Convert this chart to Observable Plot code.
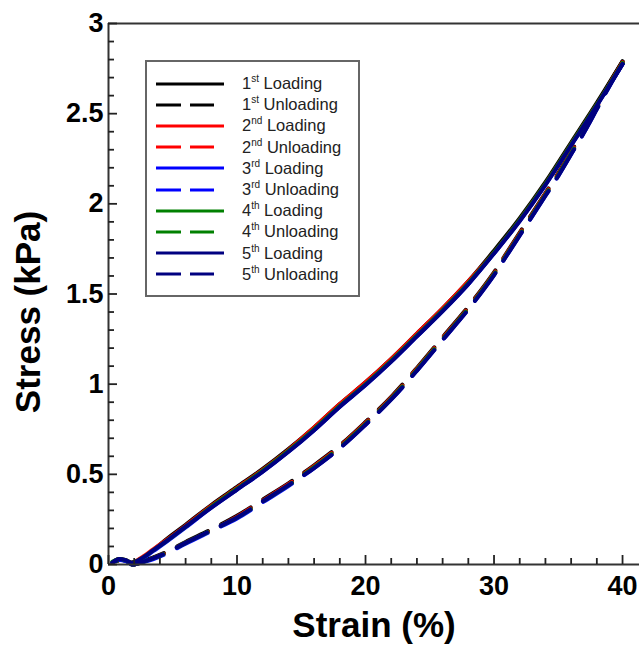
<!DOCTYPE html>
<html><head><meta charset="utf-8">
<script src="https://cdn.jsdelivr.net/npm/d3@7"></script>
<script src="https://cdn.jsdelivr.net/npm/@observablehq/plot@0.6"></script>
<style>
html,body{margin:0;padding:0;background:#fff;}
#wrap{position:relative;width:639px;height:646px;overflow:hidden;}
#chart svg{display:block;}
#legend{position:absolute;left:145px;top:60px;width:211px;height:222px;border:2px solid #666;background:#fff;
  font-family:"Liberation Sans",Arial,sans-serif;font-size:16.5px;color:#222;padding-top:11px;box-sizing:content-box;}
.row{height:21.2px;display:flex;align-items:center;}
.row svg{margin-left:9px;flex:none;}
.row span{margin-left:16px;white-space:nowrap;}
.row sup{font-size:10px;vertical-align:7px;line-height:0;}
</style></head>
<body><div id="wrap"><div id="chart"></div><div id="legend"></div></div>
<script>
// ---- data ----
const cycleNums = ["1","2","3","4","5"];
const cycleSuffix = ["st","nd","rd","th","th"];
const cycleColors = ["#000000","#ff0000","#0000ff","#008000","#000080"];

const loadStrain = [0.3,0.8,1.3,1.8,2.5,3.5,4.5,6,8,10,12,14,16,18,20,22,24,26,28,30,32,34,36,38,40];
const load1 = [0.01,0.03,0.02,0.01,0.03,0.08,0.14,0.22,0.33,0.43,0.53,0.64,0.76,0.89,1.01,1.14,1.28,1.42,1.57,1.74,1.92,2.12,2.34,2.56,2.79];
const load2 = [0.01,0.03,0.025,0.01,0.035,0.085,0.135,0.215,0.325,0.425,0.525,0.635,0.76,0.89,1.01,1.14,1.28,1.42,1.57,1.73,1.91,2.11,2.33,2.55,2.78];
const load3 = [0.01,0.025,0.02,0.005,0.025,0.075,0.125,0.205,0.315,0.415,0.515,0.625,0.745,0.875,0.995,1.125,1.265,1.405,1.555,1.725,1.905,2.105,2.325,2.545,2.775];
const load4 = [0.015,0.03,0.025,0.01,0.03,0.08,0.13,0.21,0.32,0.42,0.52,0.63,0.75,0.88,1.00,1.13,1.27,1.41,1.56,1.73,1.91,2.11,2.33,2.55,2.78];
const load5 = [0.01,0.03,0.025,0.01,0.03,0.08,0.13,0.21,0.315,0.415,0.515,0.625,0.745,0.875,0.995,1.125,1.265,1.405,1.555,1.725,1.905,2.105,2.325,2.545,2.775];

const unloadStrain = [40,39,38,37,36,35,34,33,32,31,30,28,26,24,22,20,18,16,14,12,10,8,6,4.5,3.5,2.5,2,1.5,1,0.5];
const unload1 = [2.79,2.67,2.54,2.41,2.29,2.17,2.06,1.95,1.84,1.73,1.62,1.43,1.26,1.09,0.93,0.79,0.66,0.55,0.45,0.36,0.27,0.195,0.125,0.07,0.04,0.015,0.0,0.005,0.02,0.02];
const unload2 = [2.785,2.665,2.535,2.405,2.285,2.165,2.055,1.945,1.835,1.725,1.615,1.425,1.255,1.085,0.925,0.785,0.655,0.545,0.445,0.355,0.265,0.19,0.12,0.065,0.035,0.01,0.0,0.005,0.02,0.02];
const unload3 = [2.775,2.655,2.525,2.395,2.275,2.155,2.045,1.935,1.825,1.715,1.605,1.415,1.245,1.075,0.915,0.775,0.645,0.535,0.435,0.345,0.255,0.185,0.115,0.06,0.03,0.01,0.0,0.005,0.02,0.02];
const unload4 = [2.78,2.66,2.53,2.40,2.28,2.16,2.05,1.94,1.83,1.72,1.61,1.42,1.25,1.08,0.92,0.78,0.65,0.54,0.44,0.35,0.26,0.19,0.12,0.065,0.035,0.01,0.0,0.005,0.02,0.02];
const unload5 = [2.775,2.655,2.525,2.395,2.275,2.155,2.045,1.935,1.825,1.715,1.605,1.415,1.245,1.075,0.915,0.775,0.645,0.535,0.44,0.35,0.26,0.19,0.12,0.065,0.035,0.01,0.0,0.005,0.02,0.02];

const xMajor = [0,10,20,30,40];
const xMinor = [2,4,6,8,12,14,16,18,22,24,26,28,32,34,36,38];
const yMajor = [0,0.5,1,1.5,2,2.5,3];
const yMinor = [0.1,0.2,0.3,0.4,0.6,0.7,0.8,0.9,1.1,1.2,1.3,1.4,1.6,1.7,1.8,1.9,2.1,2.2,2.3,2.4,2.6,2.7,2.8,2.9];
const xTitle = "Strain (%)";
const yTitle = "Stress (kPa)";

// ---- build series ----
const loads = [load1,load2,load3,load4,load5];
const unloads = [unload1,unload2,unload3,unload4,unload5];
const seriesMarks = [];
loads.forEach((arr, c) => {
  const L = loadStrain.map((s,i) => ({strain:s, stress:arr[i]}));
  const U = unloadStrain.map((s,i) => ({strain:s, stress:unloads[c][i]}));
  seriesMarks.push(Plot.line(L, {x:"strain", y:"stress", stroke:cycleColors[c], strokeWidth:4, strokeLinecap:"round", strokeLinejoin:"round", curve:"catmull-rom"}));
  seriesMarks.push(Plot.line(U, {x:"strain", y:"stress", stroke:cycleColors[c], strokeWidth:4, strokeLinecap:"round", strokeLinejoin:"round", strokeDasharray:"34,15", curve:"catmull-rom"}));
});

// frame geometry
const chartW = 639, chartH = 646, mL = 108, mR = 0, mT = 23, mB = 82;
const frameW = chartW - mL - mR, frameH = chartH - mT - mB;
const xDomain = [0, 41.32], yDomain = [0, 3];
// tick lengths, converted from pixels into scale units
const pxPerX = frameW / (xDomain[1] - xDomain[0]);
const pxPerY = frameH / (yDomain[1] - yDomain[0]);
const minorLen = 6, majorLen = 9;

const font = "'Liberation Sans', Arial, sans-serif";
const tickStroke = "#222";
const chart = Plot.plot({
  width: chartW, height: chartH,
  marginLeft: mL, marginRight: mR, marginTop: mT, marginBottom: mB,
  x: {domain: xDomain, label: null},
  y: {domain: yDomain, label: null},
  style: {fontFamily: font, background: "white", color: "#111"},
  marks: [
    Plot.axisX({ticks: xMajor, tickSize: 0, tickPadding: 11, fontSize: 27, fontWeight: "bold", label: null, fill: "#000"}),
    Plot.axisY({ticks: yMajor, tickSize: 0, tickPadding: 5, fontSize: 27, fontWeight: "bold", label: null, fill: "#000", tickFormat: d => String(d)}),
    ...seriesMarks,
    Plot.ruleX([0], {stroke: "#333", strokeWidth: 2}),
    Plot.ruleY([0, 3], {stroke: "#333", strokeWidth: 2}),
    // inward ticks
    Plot.ruleX(xMinor, {x: d => d, y1: yDomain[0], y2: yDomain[0] + minorLen / pxPerY, stroke: tickStroke, strokeWidth: 1.8}),
    Plot.ruleX(xMajor, {x: d => d, y1: yDomain[0], y2: yDomain[0] + majorLen / pxPerY, stroke: tickStroke, strokeWidth: 1.8}),
    Plot.ruleY(yMinor, {y: d => d, x1: xDomain[0], x2: xDomain[0] + minorLen / pxPerX, stroke: tickStroke, strokeWidth: 1.8}),
    Plot.ruleY(yMajor, {y: d => d, x1: xDomain[0], x2: xDomain[0] + majorLen / pxPerX, stroke: tickStroke, strokeWidth: 1.8}),
    Plot.text([xTitle], {frameAnchor: "bottom", dy: 61, fontSize: 35, fontWeight: "bold", textAnchor: "middle", lineAnchor: "middle", fill: "#000"}),
    Plot.text([yTitle], {frameAnchor: "left", dx: -80, dy: 18, rotate: -90, fontSize: 35, fontWeight: "bold", textAnchor: "middle", lineAnchor: "middle", fill: "#000"})
  ]
});
document.getElementById("chart").appendChild(chart);

// ---- legend ----
const legend = document.getElementById("legend");
cycleNums.forEach((n, c) => {
  ["Loading","Unloading"].forEach((ph, k) => {
    const row = document.createElement("div");
    row.className = "row";
    const dash = k ? ' stroke-dasharray="25,9"' : '';
    row.innerHTML = `<svg width="70" height="8"><line x1="0" y1="4" x2="${k ? 58 : 68}" y2="4" stroke="${cycleColors[c]}" stroke-width="3.2"${dash}/></svg><span>${n}<sup>${cycleSuffix[c]}</sup> ${ph}</span>`;
    legend.appendChild(row);
  });
});
</script></body></html>
